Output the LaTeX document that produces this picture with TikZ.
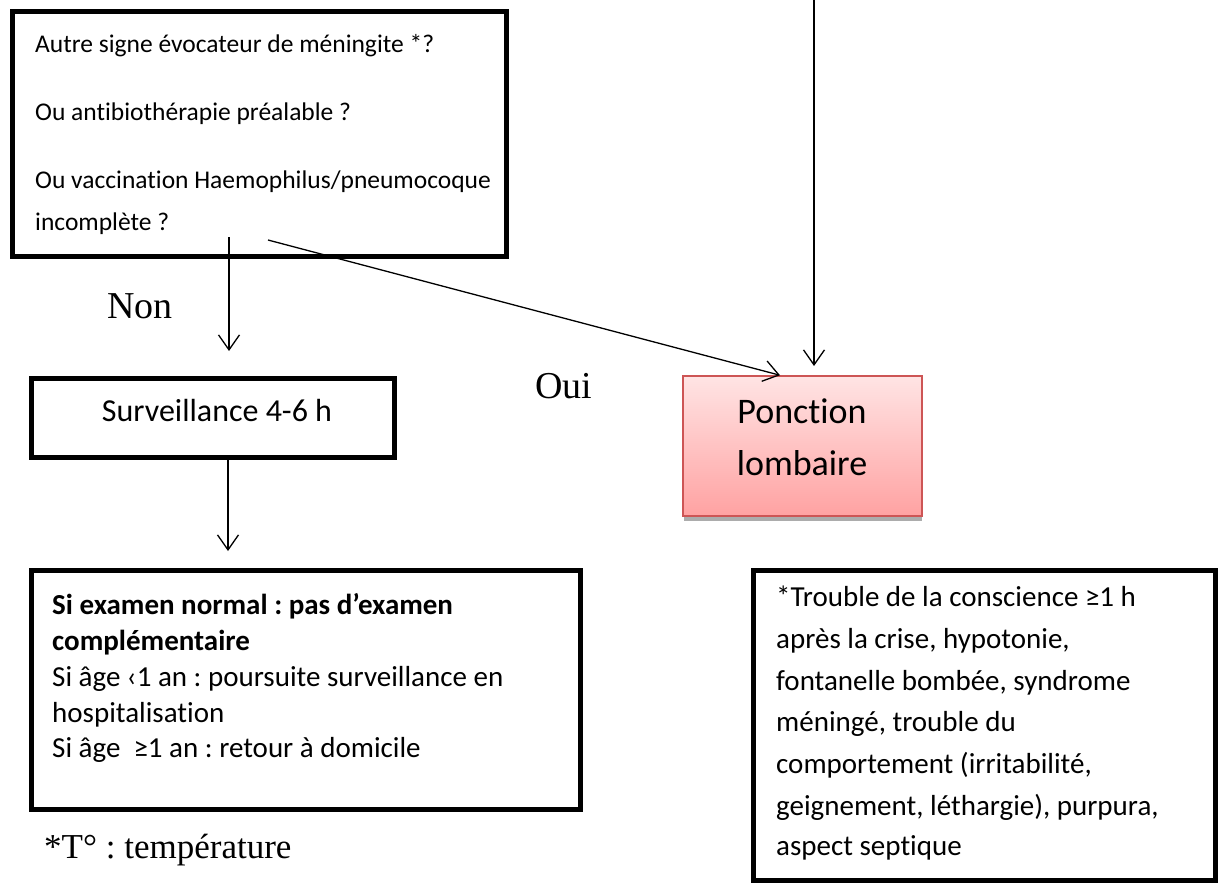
\documentclass[tikz,border=0pt]{standalone}
\usepackage{fontspec}
\setmainfont{Carlito}[Ligatures=NoCommon]
\newfontfamily\tnr{Liberation Serif}
\usetikzlibrary{arrows.meta}
\definecolor{pinkTop}{RGB}{255,228,228}
\definecolor{pinkBot}{RGB}{255,162,162}
\definecolor{pinkBorder}{RGB}{205,85,85}
\frenchspacing
\begin{document}
\begin{tikzpicture}[x=1pt,y=-1pt,
  box/.style={draw=black, line width=5pt, rectangle, inner sep=0pt, outer sep=0pt},
  txt/.style={anchor=base west, inner sep=0pt, font=\fontsize{29}{35}\selectfont},
  toptxt/.style={txt, font=\fontsize{25.5}{32}\selectfont},
  boldtxt/.style={txt, font=\fontsize{29}{35}\selectfont\bfseries},
  serif/.style={anchor=base west, inner sep=0pt, font=\fontsize{38}{44}\tnr},
  arr/.style={line width=1.3pt, -{Straight Barb[length=15pt,width=21pt,line width=1.3pt]}},
  pl/.style={rectangle, draw=pinkBorder, line width=1.5pt, top color=pinkTop, bottom color=pinkBot, inner sep=0pt}
]
\useasboundingbox (0,0) rectangle (1221,883);
\fill[white] (0,0) rectangle (1221,883);

% boxes
\node[box, minimum width=494pt, minimum height=244pt] (top) at (259,134) {};
\node[box, minimum width=363pt, minimum height=79pt] (surv) at (212.5,417.5) {};
\node[box, minimum width=549pt, minimum height=239pt] (res) at (306,689.5) {};
\node[box, minimum width=462pt, minimum height=310pt] (note) at (984,725) {};
\fill[gray!65] (684,517) rectangle (922,520.5);
\node[pl, minimum width=239pt, minimum height=140pt] (pl) at (802.5,446) {};

% top box text
\node[toptxt] (t1) at (35,53) {Autre signe évocateur de méningite *?};
\node[toptxt] (t2) at (35,120) {Ou antibiothérapie préalable ?};
\node[toptxt] (t3) at (35,188) {Ou vaccination Haemophilus/pneumocoque};
\node[toptxt] (t4) at (35,230) {incomplète ?};

% surveillance
\node[anchor=base, inner sep=0pt, font=\fontsize{32}{38}\selectfont] (s1) at (217,421) {Surveillance 4-6 h};

% ponction
\node[anchor=base, inner sep=0pt, font=\fontsize{36}{42}\selectfont] (p1) at (802,423) {Ponction};
\node[anchor=base, inner sep=0pt, font=\fontsize{36}{42}\selectfont] (p2) at (802,475) {lombaire};

% result box
\node[boldtxt] (r1) at (52,614) {Si examen normal : pas d’examen};
\node[boldtxt] (r2) at (52,650) {complémentaire};
\node[txt] (r3) at (52,686) {Si âge ‹1 an : poursuite surveillance en};
\node[txt] (r4) at (52,722) {hospitalisation};
\node[txt] (r5) at (52,757) {Si âge\ \ ≥1 an : retour à domicile};

% note box
\node[txt] (n1) at (776,606) {*Trouble de la conscience ≥1 h};
\node[txt] (n2) at (776,648) {après la crise, hypotonie,};
\node[txt] (n3) at (776,690) {fontanelle bombée, syndrome};
\node[txt] (n4) at (776,731) {méningé, trouble du};
\node[txt] (n5) at (776,773) {comportement (irritabilité,};
\node[txt] (n6) at (776,815) {geignement, léthargie), purpura,};
\node[txt] (n7) at (776,855) {aspect septique};

% labels
\node[serif] (non) at (107,318) {Non};
\node[serif] (oui) at (535,398) {Oui};
\node[anchor=base west, inner sep=0pt, font=\fontsize{35}{40}\tnr] (temp) at (44,858) {*T° : température};

% connectors
\coordinate (a1s) at (229,237);
\coordinate (a1e) at (229,351);
\coordinate (a2s) at (268,240);
\coordinate (a2x) at (780,0);
\coordinate (a3s) at (814,0);
\coordinate (a3e) at (814,366);
\coordinate (a4s) at (228,459);
\coordinate (a4e) at (228,551);
\draw[arr] (a1s) -- (a1e);
\draw[arr] (a2s) -- (a2x |- pl.north);
\draw[arr] (a3s) -- (a3e);
\draw[arr] (a4s) -- (a4e);
\end{tikzpicture}
\end{document}
